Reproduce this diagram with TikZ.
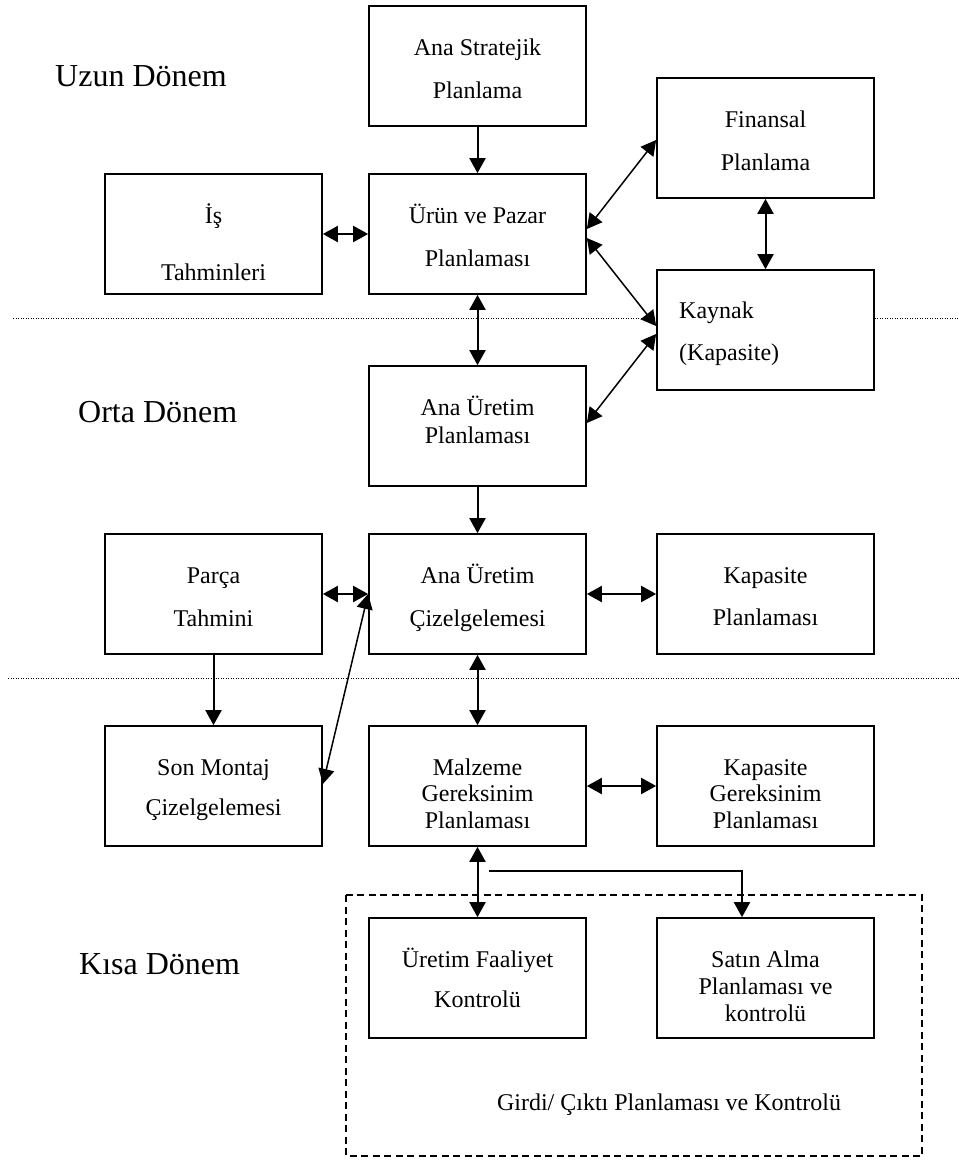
\documentclass[tikz,border=0pt]{standalone}
\usepackage{fontspec}
\setmainfont{Liberation Serif}
\usetikzlibrary{arrows.meta,calc}
\newcommand\tops{\rule{0pt}{22pt}}
\newcommand\bots{\rule[-6pt]{0pt}{6pt}}
\tikzset{
 hd/.tip={Triangle[length=15pt,width=16pt]},
 box/.style={draw,line width=1.7pt,minimum width=217pt,minimum height=120pt,inner sep=0pt},
 txt/.style={align=center,inner sep=0pt,font=\fontsize{24}{27}\selectfont},
 txtl/.style={align=left,inner sep=0pt,anchor=west,font=\fontsize{24}{27}\selectfont},
 lbl/.style={inner sep=0pt,anchor=base west,font=\fontsize{32}{36}\selectfont},
 ar/.style={line width=2pt,-hd},
 dar/.style={line width=2pt,hd-hd},
 diag/.style={line width=1.5pt,hd-hd},
 dotline/.style={line width=1pt,dash pattern=on 1pt off 1.5pt},
 dashline/.style={line width=1.6pt,dash pattern=on 7pt off 4.5pt},
}
\begin{document}
\begin{tikzpicture}[x=1pt,y=-1pt]
\useasboundingbox (0,0) rectangle (959,1160);
% boxes
\node[box] (asp) at (477.5,66) {};
\node[box] (fin) at (765.5,138) {};
\node[box] (is) at (213.5,234) {};
\node[box] (urun) at (477.5,234) {};
\node[box] (kay) at (765.5,330) {};
\node[box] (aup) at (477.5,426) {};
\node[box] (parca) at (213.5,594) {};
\node[box] (auc) at (477.5,594) {};
\node[box] (kapp) at (765.5,594) {};
\node[box] (som) at (213.5,786) {};
\node[box] (mgp) at (477.5,786) {};
\node[box] (kgp) at (765.5,786) {};
\node[box] (ufk) at (477.5,978) {};
\node[box] (sap) at (765.5,978) {};
% texts
\node[txt] (asp-t) at (477.5,68.5) {\tops Ana Stratejik\\[16pt]Planlama\bots};
\node[txt] (fin-t) at (765.5,140.5) {\tops Finansal\\[16pt]Planlama\bots};
\node[txt] (is-t) at (213.5,243.5) {\tops İş\\[30pt]Tahminleri\bots};
\node[txt] (urun-t) at (477.5,236.5) {\tops Ürün ve Pazar\\[16pt]Planlaması\bots};
\node[txtl] (kay-t) at (679,331) {\tops Kaynak\\[15pt](Kapasite)\bots};
\node[txt] (aup-t) at (477.5,421) {\tops Ana Üretim\\[1pt]Planlaması\bots};
\node[txt] (parca-t) at (213.5,596.5) {\tops Parça\\[16pt]Tahmini\bots};
\node[txt] (auc-t) at (477.5,596.5) {\tops Ana Üretim\\[16pt]Çizelgelemesi\bots};
\node[txt] (kapp-t) at (765.5,596) {\tops Kapasite\\[15pt]Planlaması\bots};
\node[txt] (som-t) at (213.5,787) {\tops Son Montaj\\[13pt]Çizelgelemesi\bots};
\node[txt] (mgp-t) at (477.5,793.5) {\tops Malzeme\\[-0.5pt]Gereksinim\\[-0.5pt]Planlaması\bots};
\node[txt] (kgp-t) at (765.5,793.5) {\tops Kapasite\\[-0.5pt]Gereksinim\\[-0.5pt]Planlaması\bots};
\node[txt] (ufk-t) at (477.5,979) {\tops Üretim Faaliyet\\[13pt]Kontrolü\bots};
\node[txt] (sap-t) at (765.5,986) {\tops Satın Alma\\[0pt]Planlaması ve\\[0pt]kontrolü\bots};
% period labels
\node[lbl] (uzun) at (55,86) {Uzun Dönem};
\node[lbl] (orta) at (78,422) {Orta Dönem};
\node[lbl] (kisa) at (79,974) {Kısa Dönem};
% dotted separators
\coordinate (d1a) at (13,318);
\coordinate (d1b) at (959,318);
\draw[dotline] (d1a) -- (d1a -| kay.west);
\draw[dotline] (d1b -| kay.east) -- (d1b);
\coordinate (d2a) at (8,678);
\coordinate (d2b) at (959,678);
\draw[dotline] (d2a) -- (d2b);
% dashed frame
\coordinate (fr1) at (346,895);
\coordinate (fr2) at (922,1156);
\draw[dashline] (fr1) rectangle (fr2);
\node[txt,anchor=base] (girdi) at (669,1110) {Girdi/ Çıktı Planlaması ve Kontrolü};
% connectors
\draw[ar] (asp.south) -- (urun.north);
\draw[dar] (is.east) -- (urun.west);
\draw[diag] ($(urun.east)+(0,-5)$) -- ($(fin.west)+(0,2)$);
\draw[diag] ($(urun.east)+(0,4)$) -- ($(kay.west)+(0,-4)$);
\draw[dar] (fin.south) -- (kay.north);
\draw[dar] (urun.south) -- (aup.north);
\draw[diag] ($(aup.east)+(0,-3)$) -- ($(kay.west)+(0,4)$);
\draw[ar] (aup.south) -- (auc.north);
\draw[dar] (parca.east) -- (auc.west);
\draw[diag] ($(som.east)+(0,-2)$) -- (auc.west);
\draw[dar] (auc.east) -- (kapp.west);
\draw[ar] (parca.south) -- (som.north);
\draw[dar] (auc.south) -- (mgp.north);
\draw[dar] (mgp.east) -- (kgp.west);
\draw[dar] (mgp.south) -- (ufk.north);
\coordinate (split) at (489,871);
\coordinate (sapin) at ($(sap.north)+(-23.5,0)$);
\draw[line width=2pt,-hd] (split) -| (sapin);
\end{tikzpicture}
\end{document}
